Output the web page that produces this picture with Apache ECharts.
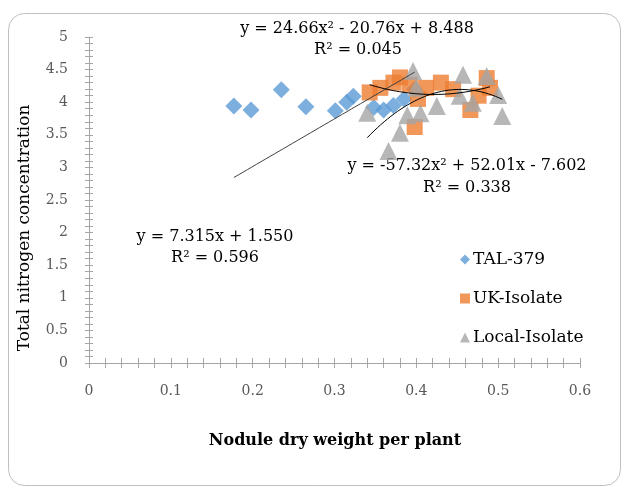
<!DOCTYPE html>
<html>
<head>
<meta charset="utf-8">
<script src="https://cdn.jsdelivr.net/npm/echarts@6/dist/echarts.min.js"></script>
<style>
html,body{margin:0;padding:0;background:#fff;}
#chart{width:624px;height:495px;}
</style>
</head>
<body>
<div id="chart"></div>
<script>
// ---- data (x = nodule dry weight per plant, y = total nitrogen concentration)
const talX = [0.177, 0.198, 0.235, 0.265, 0.301, 0.315, 0.323, 0.348, 0.360, 0.372, 0.385, 0.398];
const talY = [3.94, 3.88, 4.19, 3.93, 3.87, 4.00, 4.09, 3.92, 3.88, 3.95, 4.05, 4.20];

const ukX = [0.343, 0.356, 0.372, 0.380, 0.392, 0.398, 0.402, 0.412, 0.430, 0.445, 0.466, 0.476, 0.486, 0.490];
const ukY = [4.15, 4.22, 4.30, 4.38, 4.27, 3.62, 4.05, 4.22, 4.30, 4.20, 3.88, 4.10, 4.37, 4.22];

const locX = [0.340, 0.366, 0.380, 0.389, 0.396, 0.400, 0.405, 0.425, 0.453, 0.457, 0.469, 0.486, 0.500, 0.505];
const locY = [3.84, 3.25, 3.53, 3.80, 4.48, 4.22, 3.83, 3.94, 4.10, 4.42, 3.99, 4.40, 4.11, 3.79];

const seriesNames = ['TAL-379', 'UK-Isolate', 'Local-Isolate'];
const xTicks = [0, 0.1, 0.2, 0.3, 0.4, 0.5, 0.6];
const yTicks = [0, 0.5, 1, 1.5, 2, 2.5, 3, 3.5, 4, 4.5, 5];

// trendline coefficients as printed in the chart
const talFit = {a: 0, b: 7.315, c: 1.550, from: 0.177, to: 0.398};
const ukFit = {a: 24.66, b: -20.76, c: 8.488, from: 0.343, to: 0.490};
const locFit = {a: -57.32, b: 52.01, c: -7.602, from: 0.340, to: 0.505};
const fitLabels = [
  ['y = 24.66x² - 20.76x + 8.488', 'R² = 0.045'],
  ['y = -57.32x² + 52.01x - 7.602', 'R² = 0.338'],
  ['y = 7.315x + 1.550', 'R² = 0.596']
];

function zip(xs, ys){ return xs.map((x,i)=>[x, ys[i]]); }
function curve(f){
  const pts = [];
  const n = 40;
  for (let i = 0; i <= n; i++){
    const x = f.from + (f.to - f.from) * i / n;
    pts.push([x, f.a*x*x + f.b*x + f.c]);
  }
  return pts;
}

const FONT = '"DejaVu Serif", "Liberation Serif", serif';
const chart = echarts.init(document.getElementById('chart'));

const axisLineStyle = {color: '#a6a6a6', width: 1};
function xAx(inside){
  return {
    type: 'value', min: 0, max: 0.6, interval: 0.1, position: 'bottom',
    axisLine: {show: !inside, onZero: false, lineStyle: axisLineStyle},
    axisTick: {show: true, inside: inside, length: 5, lineStyle: axisLineStyle},
    minorTick: {show: true, splitNumber: 5, length: 5, lineStyle: axisLineStyle},
    splitLine: {show: false},
    axisLabel: inside ? {show: false} : {
      show: true, margin: 21, color: '#595959', fontFamily: FONT, fontSize: 14,
      formatter: v => String(xTicks.find(t => Math.abs(t - v) < 1e-9) ?? v)
    }
  };
}
function yAx(inside){
  return {
    type: 'value', min: 0, max: 5, interval: 0.5, position: 'left',
    axisLine: {show: !inside, onZero: false, lineStyle: axisLineStyle},
    axisTick: {show: true, inside: inside, length: 4, lineStyle: axisLineStyle},
    minorTick: {show: true, splitNumber: 5, length: 4, lineStyle: axisLineStyle},
    splitLine: {show: false},
    axisLabel: inside ? {show: false} : {
      show: true, margin: 21, color: '#595959', fontFamily: FONT, fontSize: 14,
      formatter: v => String(yTicks.find(t => Math.abs(t - v) < 1e-9) ?? v)
    }
  };
}

const textStyle = {fill: '#000', font: '16px ' + FONT, textAlign: 'center', textVerticalAlign: 'middle'};

chart.setOption({
  backgroundColor: '#fff',
  animation: false,
  grid: {left: 89, right: 44, top: 37, bottom: 132},
  xAxis: [xAx(false), xAx(true)],
  yAxis: [yAx(false), yAx(true)],
  legend: {
    orient: 'vertical', left: 455, top: 246, itemGap: 22,
    itemWidth: 10, itemHeight: 10,
    textStyle: {fontFamily: FONT, fontSize: 17, color: '#000', padding: [0,0,0,-2]},
    data: [
      {name: seriesNames[0], icon: 'diamond'},
      {name: seriesNames[1], icon: 'rect'},
      {name: seriesNames[2], icon: 'triangle'}
    ]
  },
  graphic: [
    {type: 'rect', shape: {x: 8.5, y: 13.5, width: 612, height: 472, r: 16}, style: {fill: 'none', stroke: '#bfbfbf', lineWidth: 1}, z: -10},
    {type: 'text', x: 25, y: 228, rotation: Math.PI/2, style: {text: 'Total nitrogen concentration', fill: '#000', font: '17px ' + FONT, textAlign: 'center', textVerticalAlign: 'middle'}},
    {type: 'text', x: 335, y: 441, style: {text: 'Nodule dry weight per plant', fill: '#000', font: 'bold 16px ' + FONT, textAlign: 'center', textVerticalAlign: 'middle'}},
    {type: 'text', x: 357, y: 29, style: Object.assign({text: fitLabels[0][0]}, textStyle)},
    {type: 'text', x: 358, y: 50, style: Object.assign({text: fitLabels[0][1]}, textStyle)},
    {type: 'text', x: 467, y: 166, style: Object.assign({text: fitLabels[1][0]}, textStyle)},
    {type: 'text', x: 467, y: 188, style: Object.assign({text: fitLabels[1][1]}, textStyle)},
    {type: 'text', x: 215, y: 237, style: Object.assign({text: fitLabels[2][0]}, textStyle)},
    {type: 'text', x: 215, y: 258, style: Object.assign({text: fitLabels[2][1]}, textStyle)}
  ],
  series: [
    {name: seriesNames[0], type: 'scatter', symbol: 'diamond', symbolSize: 17, itemStyle: {color: '#5B9BD5'}, data: zip(talX, talY), z: 2},
    {name: seriesNames[1], type: 'scatter', symbol: 'rect', symbolSize: 16, itemStyle: {color: '#ED7D31'}, data: zip(ukX, ukY), z: 3},
    {name: seriesNames[2], type: 'scatter', symbol: 'triangle', symbolSize: 18, itemStyle: {color: '#A5A5A5'}, data: zip(locX, locY), z: 4},
    {type: 'line', data: curve(talFit), showSymbol: false, symbol: 'none', lineStyle: {color: '#404040', width: 1}, z: 5, silent: true},
    {type: 'line', data: curve(ukFit), showSymbol: false, symbol: 'none', lineStyle: {color: '#000', width: 1}, z: 5, silent: true},
    {type: 'line', data: curve(locFit), showSymbol: false, symbol: 'none', lineStyle: {color: '#000', width: 1}, z: 5, silent: true}
  ]
});
</script>
</body>
</html>
